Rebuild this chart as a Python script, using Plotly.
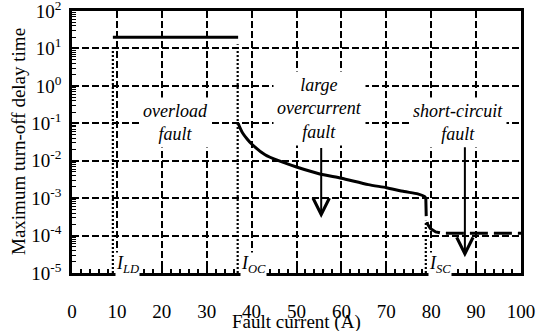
import plotly.graph_objects as go

# ---- data ----
overload_x = [9.1, 37.0]
overload_y = [20.0, 20.0]

oc_x = [37.0, 37.5, 38.0, 39.0, 40.0, 43.0, 46.0, 50.0, 55.0, 60.0, 66.0, 70.0, 74.0, 77.0, 78.5, 78.8]
oc_y = [0.1, 0.072, 0.055, 0.038, 0.028, 0.0145, 0.010, 0.0068, 0.0045, 0.0034, 0.0023, 0.0019, 0.0015, 0.0013, 0.0011, 0.001]

sc_x = [78.8, 78.9, 79.2, 79.8, 81.0, 82.5, 84.5, 100.0]
sc_y = [1.0e-3, 3.0e-4, 2.0e-4, 1.55e-4, 1.25e-4, 1.15e-4, 1.15e-4, 1.15e-4]

i_ld, i_oc, i_sc = 9.1, 36.9, 78.8
marker_top = [12.0, 13.0, 2.5e-4]

x_ticks = [0, 10, 20, 30, 40, 50, 60, 70, 80, 90, 100]
y_exps = [-5, -4, -3, -2, -1, 0, 1, 2]
y_ticklabels = ["10<sup>%d</sup>" % e for e in y_exps]
y_minor = [m * 10.0 ** e for e in y_exps[:-1] for m in range(2, 10)]

FONT = "Liberation Serif, Times New Roman, DejaVu Serif, serif"

fig = go.Figure()

# dotted current markers
for xv, top in zip([i_ld, i_oc, i_sc], marker_top):
    fig.add_trace(go.Scatter(x=[xv, xv], y=[1e-5, top], mode="lines",
                             line=dict(color="black", width=2.2, dash="2px,2px"),
                             showlegend=False, hoverinfo="skip"))

fig.add_trace(go.Scatter(x=overload_x, y=overload_y, mode="lines",
                         line=dict(color="black", width=3), showlegend=False))
fig.add_trace(go.Scatter(x=oc_x, y=oc_y, mode="lines",
                         line=dict(color="black", width=3, shape="spline", smoothing=0.6),
                         showlegend=False))
fig.add_trace(go.Scatter(x=sc_x, y=sc_y, mode="lines",
                         line=dict(color="black", width=3, dash="18px,6px"),
                         showlegend=False))

annotations = []
# text boxes
def textbox(x, y, text):
    annotations.append(dict(x=x, y=y, xref="x", yref="y", text=text, showarrow=False,
                            font=dict(family=FONT, size=18, color="black"),
                            bgcolor="white", borderpad=3, xanchor="center", yanchor="middle"))

textbox(23.1, -0.98, "<i>overload<br>fault</i>")
textbox(55.1, -0.61, "<i>large<br>overcurrent<br>fault</i>")
textbox(86.0, -0.98, "<i>short-circuit<br>fault</i>")

# arrows
annotations.append(dict(x=55.5, y=-3.53, ax=55.5, ay=-1.62, xref="x", yref="y",
                        axref="x", ayref="y", text="", showarrow=True,
                        arrowhead=5, arrowsize=1.6, arrowwidth=2, arrowcolor="black"))
annotations.append(dict(x=87.5, y=-4.58, ax=87.5, ay=-1.6, xref="x", yref="y",
                        axref="x", ayref="y", text="", showarrow=True,
                        arrowhead=5, arrowsize=1.6, arrowwidth=2, arrowcolor="black"))

# current labels
for xv, sub in zip([i_ld, i_oc, i_sc], ["LD", "OC", "SC"]):
    annotations.append(dict(x=xv, y=-4.77, xref="x", yref="y",
                            text="<i>I<sub>%s</sub></i>" % sub, showarrow=False,
                            font=dict(family=FONT, size=18, color="black"),
                            bgcolor="white", borderpad=0, xanchor="left", yanchor="middle",
                            xshift=2))

# axis titles
annotations.append(dict(x=0.5, y=0, xref="paper", yref="paper", text="Fault current (A)",
                        showarrow=False, font=dict(family=FONT, size=19, color="black"),
                        xanchor="center", yanchor="top", yshift=-36))
annotations.append(dict(x=0, y=0.5, xref="paper", yref="paper", text="Maximum turn-off delay time",
                        showarrow=False, font=dict(family=FONT, size=19, color="black"),
                        textangle=-90, xanchor="center", yanchor="middle", xshift=-54))

fig.update_layout(
    width=537, height=331,
    margin=dict(l=72, r=16, t=11, b=58),
    paper_bgcolor="white", plot_bgcolor="white",
    template="none",
    showlegend=False,
    annotations=annotations,
    font=dict(family=FONT, size=18, color="black"),
)

fig.update_xaxes(
    range=[0, 100], tickvals=x_ticks, ticktext=[str(v) for v in x_ticks],
    showline=True, linecolor="black", linewidth=2.5, mirror=True,
    ticks="inside", ticklen=6, tickwidth=1.5, tickcolor="black",
    ticklabelstandoff=19, ticklabeloverflow="allow",
    tickfont=dict(family=FONT, size=19, color="black"),
    showgrid=True, gridcolor="black", gridwidth=1.5, griddash="7px,3px",
    zeroline=False,
    minor=dict(dtick=2, ticks="inside", ticklen=4, tickwidth=1.5, tickcolor="black", showgrid=False),
)
fig.update_yaxes(
    type="log", range=[-5.0005, 2.0005],
    tickvals=[10.0 ** e for e in y_exps], ticktext=y_ticklabels,
    showline=True, linecolor="black", linewidth=2.5, mirror=True,
    ticks="inside", ticklen=6, tickwidth=1.5, tickcolor="black",
    ticklabelstandoff=4, ticklabeloverflow="allow",
    tickfont=dict(family=FONT, size=19, color="black"),
    showgrid=True, gridcolor="black", gridwidth=1.5, griddash="7px,3px",
    zeroline=False,
    minor=dict(tickmode="array", tickvals=y_minor, ticks="inside", ticklen=4,
               tickwidth=1.2, tickcolor="black", showgrid=False),
)

fig.write_html("out.html")
